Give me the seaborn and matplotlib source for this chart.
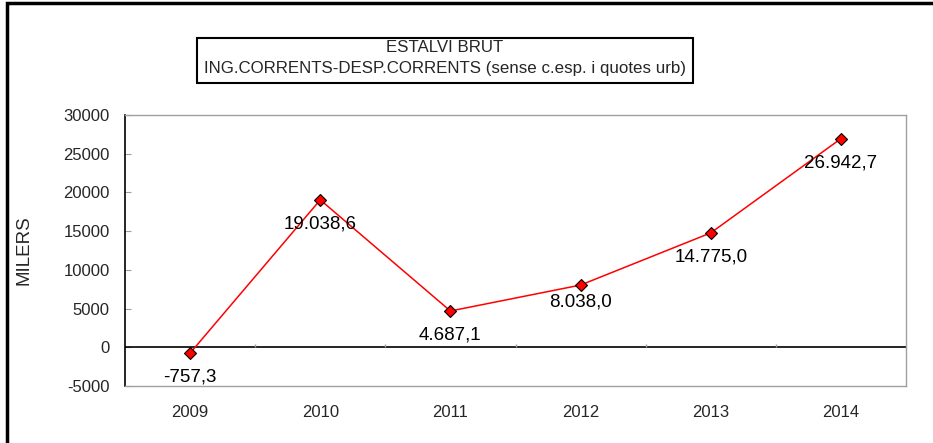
import matplotlib
matplotlib.use("Agg")
import matplotlib.pyplot as plt
import seaborn as sns
import pandas as pd
from matplotlib.patches import Rectangle

years = ['2009', '2010', '2011', '2012', '2013', '2014']
values = [-757.3, 19038.6, 4687.1, 8038.0, 14775.0, 26942.7]
y_ticks = [-5000, 0, 5000, 10000, 15000, 20000, 25000, 30000]
title_1 = 'ESTALVI BRUT'
title_2 = 'ING.CORRENTS-DESP.CORRENTS (sense c.esp. i quotes urb)'
y_label = 'MILERS'

df = pd.DataFrame({'year': years, 'value': values})


def fmt(v):
    # catalan style: 19.038,6
    s = f"{v:,.1f}"
    return s.replace(',', 'X').replace('.', ',').replace('X', '.')


sns.set_style('white')
plt.rcParams['font.family'] = ['Liberation Sans', 'DejaVu Sans']
plt.rcParams['axes.unicode_minus'] = False

fig = plt.figure(figsize=(9.33, 4.43), dpi=100)
ax = fig.add_axes([125 / 933, 1 - 386 / 443, 781 / 933, 271 / 443])

sns.lineplot(data=df, x='year', y='value', color='red', lw=1.1,
             marker='D', markersize=6.5, markerfacecolor='red',
             markeredgecolor='black', markeredgewidth=0.8, ax=ax)

for i, v in enumerate(values):
    off = -17 if years[i] == '2012' else -24  # excel placed this one closer
    ax.annotate(fmt(v), (i, v), xytext=(0, off), textcoords='offset pixels',
                ha='center', va='center', fontsize=13.5, color='black')

ax.set_xlim(-0.5, len(years) - 0.5)
ax.set_ylim(y_ticks[0], y_ticks[-1])
ax.set_yticks(y_ticks)
ax.set_xticks(range(len(years)))
ax.set_xticklabels(years)
ax.set_xlabel('')
ax.set_ylabel(y_label, fontsize=13.5, labelpad=22)

# zero line and category boundary ticks
ax.axhline(0, color='black', lw=1.2, zorder=1)
ax.vlines([i + 0.5 for i in range(len(years) - 1)], 0, 450,
          color='#a0a0a0', lw=1, zorder=1)

for side in ['top', 'right', 'bottom']:
    ax.spines[side].set_color('#a0a0a0')
    ax.spines[side].set_linewidth(1)
ax.spines['left'].set_color('black')
ax.spines['left'].set_linewidth(1.2)

ax.tick_params(axis='y', direction='in', length=4, color='#a0a0a0',
               labelsize=12, pad=11, left=True)
ax.tick_params(axis='x', length=0, labelsize=12, pad=14)

# title box
fig.patches.append(Rectangle((197 / 933, 1 - 83 / 443), 496 / 933, 45 / 443,
                             transform=fig.transFigure, fill=False,
                             edgecolor='black', lw=1.5))
fig.text(445 / 933, 1 - 48 / 443, title_1, ha='center', va='center', fontsize=12.2)
fig.text(445 / 933, 1 - 69 / 443, title_2, ha='center', va='center', fontsize=12.2)

# outer frame (top and left visible)
fig.patches.append(Rectangle((7 / 933, -0.05), 1.1, 1.05 - 3 / 443,
                             transform=fig.transFigure, fill=False,
                             edgecolor='black', lw=2.5))

fig.savefig('out.png', dpi=100)
